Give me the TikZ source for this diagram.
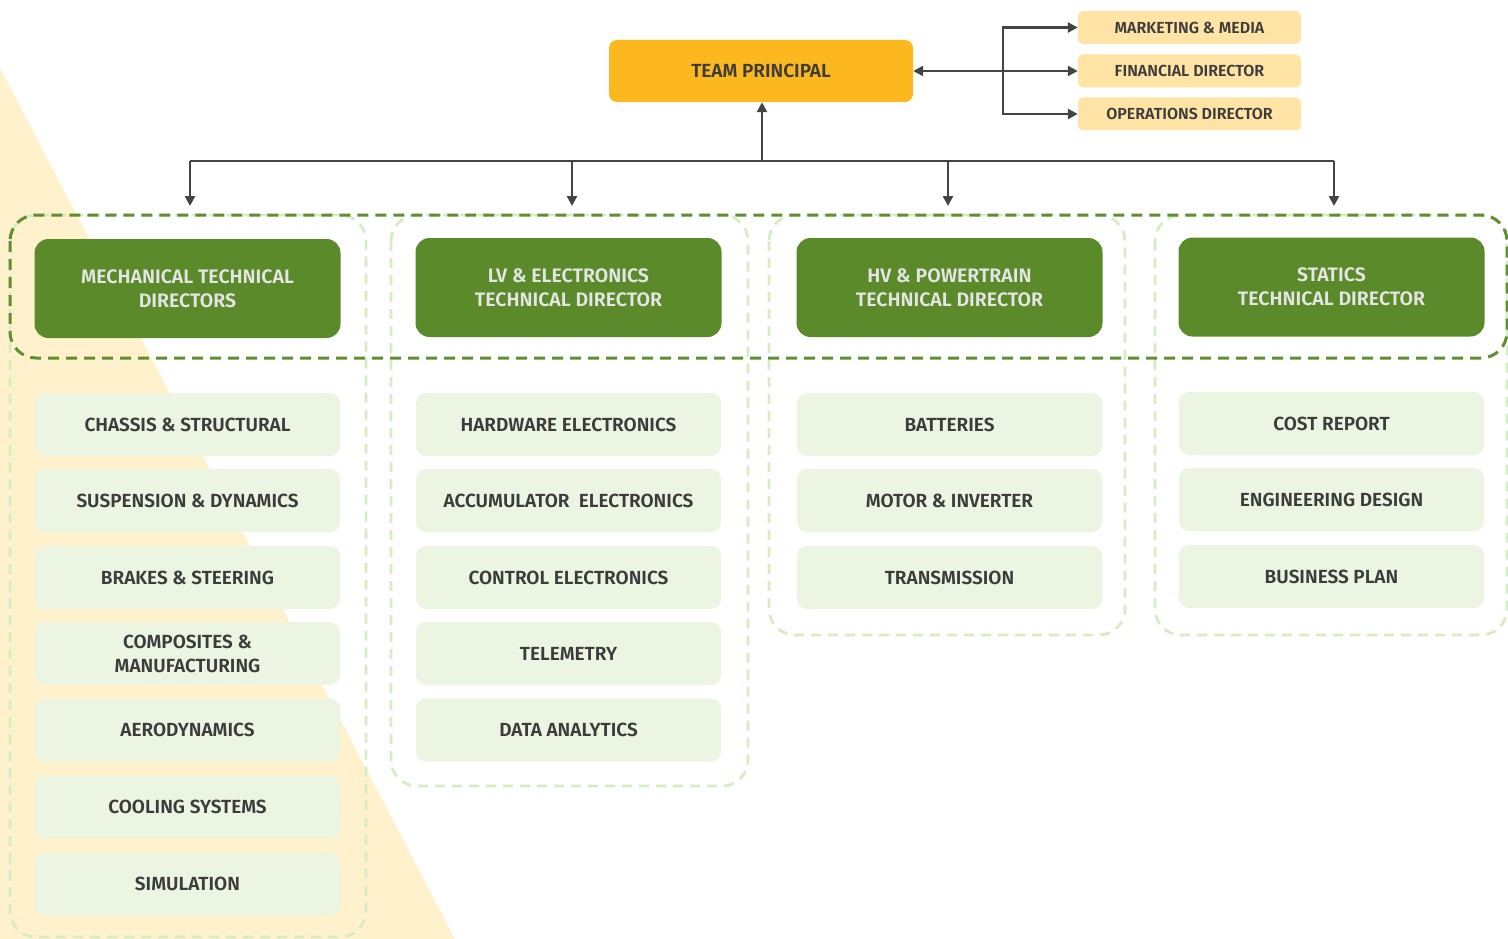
\documentclass[tikz,border=0pt]{standalone}
\usepackage{fontspec}
\setmainfont{Fira Sans SemiBold}
\usetikzlibrary{arrows.meta}
\definecolor{cream}{HTML}{FFF1CC}
\definecolor{tpfill}{HTML}{FCB81E}
\definecolor{sidefill}{HTML}{FFE4A5}
\definecolor{dgreen}{HTML}{5B8A2A}
\definecolor{lgreen}{HTML}{EBF5E1}
\definecolor{lgline}{HTML}{D5EDC2}
\definecolor{dgline}{HTML}{5F8F2E}
\definecolor{txt}{HTML}{3C3C3C}
\definecolor{arr}{HTML}{444444}
\begin{document}
\begin{tikzpicture}[x=1pt,y=-1pt,
 tpbox/.style={fill=tpfill, rounded corners=8pt, minimum width=304pt, minimum height=62pt, text=txt, font=\fontsize{19}{23}\selectfont},
 sidebox/.style={fill=sidefill, rounded corners=5pt, minimum width=223pt, minimum height=33pt, inner sep=0pt, text=txt, font=\fontsize{16}{19}\selectfont},
 dirbox/.style={fill=dgreen, rounded corners=14pt, minimum width=306pt, minimum height=99pt, text=white!90!black, align=center, font=\fontsize{19.5}{24}\selectfont},
 subbox/.style={fill=lgreen, rounded corners=10pt, minimum width=305pt, minimum height=63pt, inner sep=0pt, text=txt, align=center, font=\fontsize{19}{24}\selectfont},
 conn/.style={draw=arr, line width=2.8pt, -{Triangle[length=10pt,width=10pt]}},
 busline/.style={draw=arr, line width=2.8pt},
 lgdash/.style={draw=lgline, line width=2.8pt, dash pattern=on 10pt off 7pt, rounded corners=26pt},
 dgdash/.style={draw=dgline, line width=3pt, dash pattern=on 11pt off 7pt, rounded corners=26pt}
]
\useasboundingbox (0,0) rectangle (1508,939);
\fill[cream] (0,68) -- (455,939) -- (0,939) -- cycle;

% column groups
\draw[lgdash] (10,215) rectangle (366,937);
\draw[lgdash] (391,215) rectangle (748,786);
\draw[lgdash] (769,215) rectangle (1125,635);
\draw[lgdash] (1155,215) rectangle (1507,635);
% director band
\draw[dgdash] (10,215) rectangle (1507,358);

% top level
\node[tpbox] (tp) at (761,71) {TEAM PRINCIPAL};
\node[sidebox] (mk) at (1189.5,27.5) {MARKETING \& MEDIA};
\node[sidebox] (fin) at (1189.5,71) {FINANCIAL DIRECTOR};
\node[sidebox] (ops) at (1189.5,114) {OPERATIONS DIRECTOR};

% directors
\node[dirbox] (d1) at (187.5,288.5) {MECHANICAL TECHNICAL\\DIRECTORS};
\node[dirbox] (d2) at (568.5,287.5) {LV \& ELECTRONICS\\TECHNICAL DIRECTOR};
\node[dirbox] (d3) at (949.5,287.5) {HV \& POWERTRAIN\\TECHNICAL DIRECTOR};
\node[dirbox] (d4) at (1331.5,287) {STATICS\\TECHNICAL DIRECTOR};

% mechanical
\node[subbox] (m1) at (187.5,424.5) {CHASSIS \& STRUCTURAL};
\node[subbox] (m2) at (187.5,500.5) {SUSPENSION \& DYNAMICS};
\node[subbox] (m3) at (187.5,577.5) {BRAKES \& STEERING};
\node[subbox] (m4) at (187.5,653.5) {COMPOSITES \&\\MANUFACTURING};
\node[subbox] (m5) at (187.5,730) {AERODYNAMICS};
\node[subbox] (m6) at (187.5,807) {COOLING SYSTEMS};
\node[subbox] (m7) at (187.5,884) {SIMULATION};
% LV
\node[subbox] (l1) at (568.5,424.5) {HARDWARE ELECTRONICS};
\node[subbox] (l2) at (568.5,500.5) {ACCUMULATOR\ \ ELECTRONICS};
\node[subbox] (l3) at (568.5,577.5) {CONTROL ELECTRONICS};
\node[subbox] (l4) at (568.5,653.5) {TELEMETRY};
\node[subbox] (l5) at (568.5,730) {DATA ANALYTICS};
% HV
\node[subbox] (h1) at (949.5,424.5) {BATTERIES};
\node[subbox] (h2) at (949.5,500.5) {MOTOR \& INVERTER};
\node[subbox] (h3) at (949.5,577.5) {TRANSMISSION};
% statics
\node[subbox] (s1) at (1331.5,423.5) {COST REPORT};
\node[subbox] (s2) at (1331.5,499.5) {ENGINEERING DESIGN};
\node[subbox] (s3) at (1331.5,576.5) {BUSINESS PLAN};

% connectors
\coordinate (busL) at (190,161);
\coordinate (busR) at (1334,161);
\coordinate (busM) at (762,161);
\coordinate (bus2) at (572,161);
\coordinate (bus3) at (948,161);
\coordinate (t1) at (190,206);
\coordinate (t2) at (572,206);
\coordinate (t3) at (948,206);
\coordinate (t4) at (1334,206);
\draw[busline] (busL) -- (busR);
\draw[conn] (busM) -- (busM |- tp.south);
\draw[conn] (busL) -- (t1);
\draw[conn] (bus2) -- (t2);
\draw[conn] (bus3) -- (t3);
\draw[conn] (busR) -- (t4);
\coordinate (br) at (1003,71);
\draw[conn, {Triangle[length=10pt,width=10pt]}-{Triangle[length=10pt,width=10pt]}] (tp.east) -- (fin.west);
\draw[conn] (br) |- (mk.west);
\draw[conn] (br) |- (ops.west);
\end{tikzpicture}
\end{document}
